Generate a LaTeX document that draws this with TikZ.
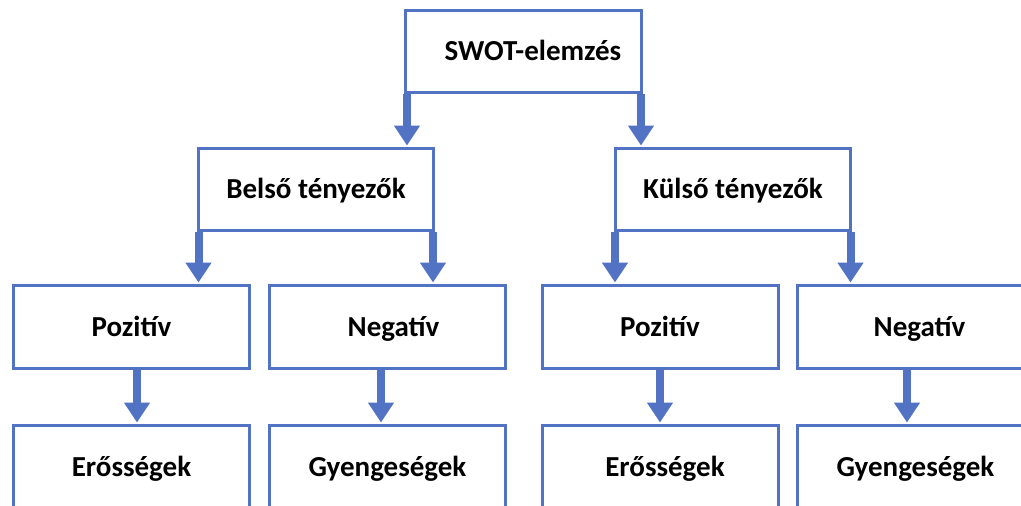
\documentclass[tikz,border=0pt]{standalone}
\usepackage{fontspec}
\setmainfont{Carlito}
\usetikzlibrary{arrows.meta}
\definecolor{swotblue}{RGB}{82,114,196}
\begin{document}
\begin{tikzpicture}[x=1pt,y=-1pt,
  box/.style={draw=swotblue,line width=3pt,fill=white,minimum width=236pt,minimum height=82pt,
    inner sep=0pt,font=\fontsize{29}{35}\selectfont\bfseries,text height=18.5pt,text depth=0pt},
  lvtwo/.style={box,minimum width=235pt},
  lvthree/.style={box,minimum height=83pt},
  arr/.style={draw=swotblue,line width=8pt,shorten >=1.5pt,-{Triangle[width=25pt,length=20pt]}}]
\useasboundingbox (0,0) rectangle (1021,506);
% level 1
\node[box] (swot) at (523.5,51) {\hspace*{19pt}SWOT-elemzés};
% level 2
\node[lvtwo] (belso) at (316,189.5) {Belső tényezők};
\node[lvtwo] (kulso) at (733,189.5) {Külső tényezők};
% level 3
\node[lvthree] (p1) at (131.5,327) {Pozitív};
\node[lvthree] (n1) at (387.5,327) {\hspace*{12pt}Negatív};
\node[lvthree] (p2) at (660,327) {Pozitív};
\node[lvthree] (n2) at (915.5,327) {\hspace*{8pt}Negatív};
% level 4
\node[lvthree] (e1) at (131.5,467) {Erősségek};
\node[lvthree] (g1) at (387.5,467) {Gyengeségek};
\node[lvthree] (e2) at (660,467) {\hspace*{10pt}Erősségek};
\node[lvthree] (g2) at (915.5,467) {Gyengeségek};
% arrows level 1 -> 2
\draw[arr] ([xshift=3pt]swot.south west) -- ([xshift=3pt]swot.south west |- belso.north);
\draw[arr] ([xshift=-2pt]swot.south east) -- ([xshift=-2pt]swot.south east |- kulso.north);
% arrows level 2 -> 3
\draw[arr] ([xshift=1.5pt]belso.south west) -- ([xshift=1.5pt]belso.south west |- p1.north);
\draw[arr] ([xshift=-2pt]belso.south east) -- ([xshift=-2pt]belso.south east |- n1.north);
\draw[arr] ([xshift=1pt]kulso.south west) -- ([xshift=1pt]kulso.south west |- p2.north);
\draw[arr] ([xshift=-1.5pt]kulso.south east) -- ([xshift=-1.5pt]kulso.south east |- n2.north);
% arrows level 3 -> 4
\draw[arr] ([xshift=5.5pt]p1.south) -- ([xshift=5.5pt]e1.north);
\draw[arr] ([xshift=-6.5pt]n1.south) -- ([xshift=-6.5pt]g1.north);
\draw[arr] (p2.south) -- (e2.north);
\draw[arr] ([xshift=-8.5pt]n2.south) -- ([xshift=-8.5pt]g2.north);
\end{tikzpicture}
\end{document}
